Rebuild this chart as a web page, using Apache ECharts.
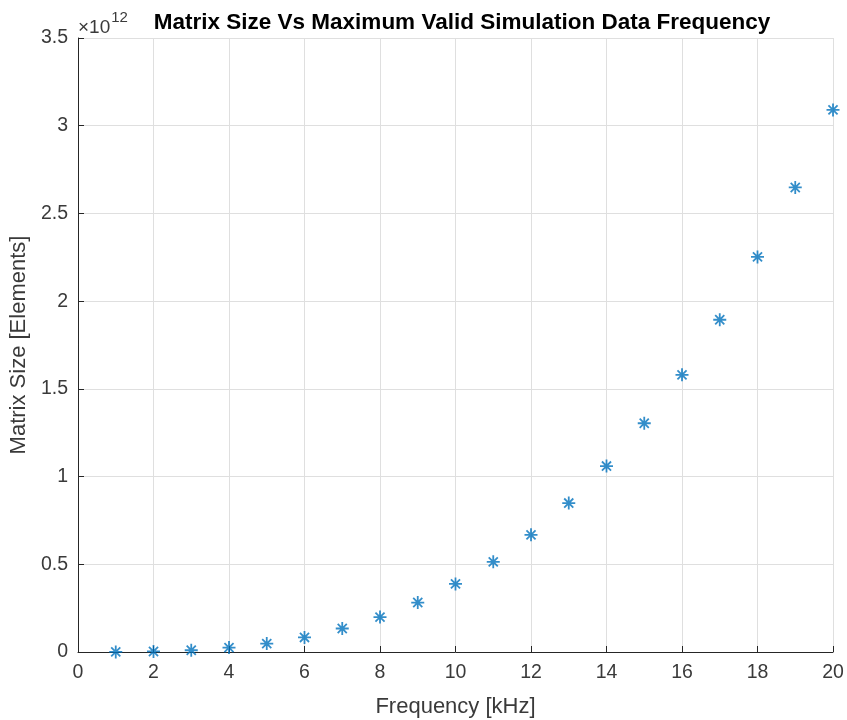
<!DOCTYPE html>
<html>
<head>
<meta charset="utf-8">
<script src="https://cdn.jsdelivr.net/npm/echarts@6/dist/echarts.min.js"></script>
<style>
body{margin:0;background:#fff;}
#chart{width:847px;height:720px;}
</style>
</head>
<body>
<div id="chart"></div>
<script>
// frequency in kHz, matrix size in units of 1e12 elements
var freq=[1,2,3,4,5,6,7,8,9,10,11,12,13,14,15,16,17,18,19,20];
var matrixSize=[0.0004,0.003,0.010,0.025,0.048,0.083,0.134,0.199,0.282,0.388,0.514,0.668,0.849,1.060,1.304,1.580,1.894,2.252,2.648,3.090];
var xTicks=[0,2,4,6,8,10,12,14,16,18,20];
var yTicks=[0,0.5,1,1.5,2,2.5,3,3.5];

var chart=echarts.init(document.getElementById('chart'));
var axisColor='#262626';
var labelColor='#3a3a3a';
var font='Liberation Sans, Arial, sans-serif';
var star='path://M0,-10L0,10M-10,0L10,0M-7,-7L7,7M-7,7L7,-7';

var option={
    backgroundColor:'#fff',
    title:{
        text:'Matrix Size Vs Maximum Valid Simulation Data Frequency',
        left:457,top:6,textAlign:'center',
        textStyle:{fontFamily:font,fontSize:22.5,fontWeight:'bold',color:'#000'}
    },
    graphic:[{
        type:'text',left:78,top:10,
        style:{
            text:'{a|×10}{b|12}',
            rich:{
                a:{fontFamily:font,fontSize:19,fill:labelColor,padding:[8,1,0,0]},
                b:{fontFamily:font,fontSize:15,fill:labelColor,verticalAlign:'top'}
            }
        }
    }],
    grid:{left:78,right:14,top:38,bottom:68,outerBoundsMode:'none',containLabel:false},
    xAxis:{
        type:'value',min:0,max:20,interval:2,
        name:'Frequency [kHz]',nameLocation:'middle',nameGap:44,
        nameTextStyle:{fontFamily:font,fontSize:22,color:labelColor},
        axisLine:{show:true,onZero:false,lineStyle:{color:axisColor,width:1}},
        axisTick:{show:true,inside:true,length:6,lineStyle:{color:axisColor}},
        axisLabel:{fontFamily:font,fontSize:19.5,color:labelColor,margin:11,
            formatter:function(v){return xTicks.indexOf(v)>=0?String(v):'';}},
        splitLine:{show:true,lineStyle:{color:'#dfdfdf',width:1}}
    },
    yAxis:{
        type:'value',min:0,max:3.5,interval:0.5,
        name:'Matrix Size [Elements]',nameLocation:'middle',nameGap:44,
        nameTextStyle:{fontFamily:font,fontSize:22,color:labelColor},
        axisLine:{show:true,onZero:false,lineStyle:{color:axisColor,width:1}},
        axisTick:{show:true,inside:true,length:6,lineStyle:{color:axisColor}},
        axisLabel:{fontFamily:font,fontSize:19.5,color:labelColor,margin:10,
            formatter:function(v){return yTicks.indexOf(v)>=0?String(v):'';}},
        splitLine:{show:true,lineStyle:{color:'#dfdfdf',width:1}}
    },
    series:[{
        type:'scatter',
        data:freq.map(function(f,i){return [f,matrixSize[i]];}),
        symbol:star,
        symbolSize:13,
        itemStyle:{color:'rgba(0,0,0,0)',borderColor:'#0072bd',borderWidth:1.8},
        z:5
    }]
};
chart.setOption(option);
</script>
</body>
</html>
